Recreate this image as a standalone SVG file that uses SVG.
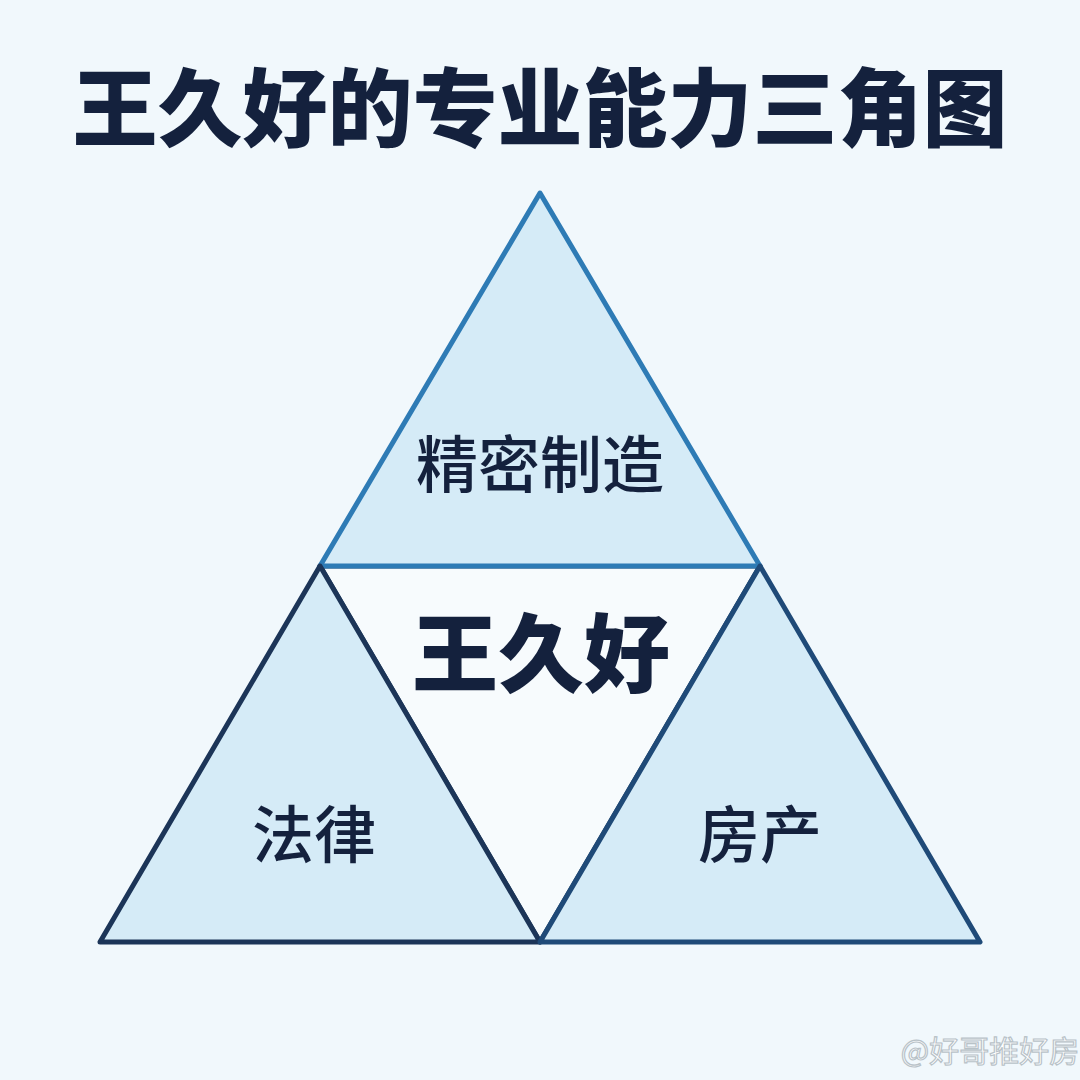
<svg xmlns="http://www.w3.org/2000/svg" width="1080" height="1080" viewBox="0 0 1080 1080">
<style>
.t{font-family:"Noto Sans CJK SC","Noto Sans CJK JP",sans-serif;fill:#14213d;text-anchor:middle}
.tri{fill:#d5ebf7;stroke-linejoin:round;stroke-width:5}
</style>
<rect width="1080" height="1080" fill="#f1f8fc"/>
<text class="t" x="540" y="140" font-size="85" font-weight="900">王久好的专业能力三角图</text>
<g id="center-node">
<polygon points="320,566 760,566 540,942" fill="#f7fbfd" stroke="#1f3f63" stroke-width="5" stroke-linejoin="round"/>
<text class="t" x="541" y="686" font-size="86" font-weight="900">王久好</text>
</g>
<g id="top-node">
<polygon class="tri" points="540,193 760,566 320,566" stroke="#2e7bb5"/>
<text class="t" x="540" y="488" font-size="62" font-weight="500">精密制造</text>
</g>
<g id="left-node">
<polygon class="tri" points="320,566 540,942 100,942" stroke="#1c3558"/>
<text class="t" x="314" y="858" font-size="62" font-weight="500">法律</text>
</g>
<g id="right-node">
<polygon class="tri" points="760,566 980,942 540,942" stroke="#1f4a78"/>
<text class="t" x="760" y="858" font-size="62" font-weight="500">房产</text>
</g>
<g id="connectors"></g>
<text x="990" y="1062" font-family="Noto Sans CJK SC,sans-serif" font-size="30" text-anchor="middle" fill="#ffffff" stroke="#b8c2c8" stroke-width="1.2">@好哥推好房</text>
</svg>
